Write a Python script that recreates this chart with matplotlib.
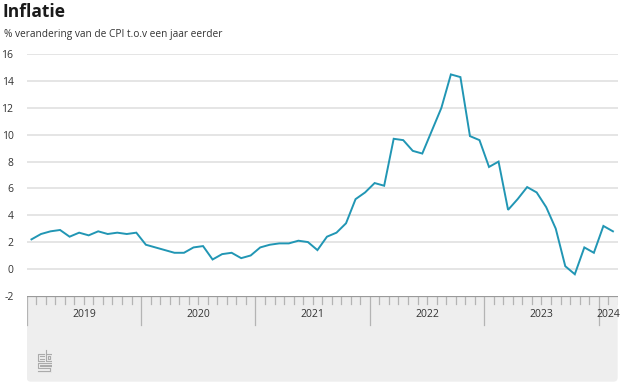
import matplotlib; matplotlib.use("Agg")
import matplotlib.pyplot as plt
from matplotlib.patches import FancyBboxPatch
import numpy as np

# monthly CPI change vs. a year earlier, Jan 2019 - Feb 2024
infl_2019 = [2.2, 2.6, 2.8, 2.9, 2.4, 2.7, 2.5, 2.8, 2.6, 2.7, 2.6, 2.7]
infl_2020 = [1.8, 1.6, 1.4, 1.2, 1.2, 1.6, 1.7, 0.7, 1.1, 1.2, 0.8, 1.0]
infl_2021 = [1.6, 1.8, 1.9, 1.9, 2.1, 2.0, 1.4, 2.4, 2.7, 3.4, 5.2, 5.7]
infl_2022 = [6.4, 6.2, 9.7, 9.6, 8.8, 8.6, 10.3, 12.0, 14.5, 14.3, 9.9, 9.6]
infl_2023 = [7.6, 8.0, 4.4, 5.2, 6.1, 5.7, 4.6, 3.0, 0.2, -0.4, 1.6, 1.2]
infl_2024 = [3.2, 2.8]
years = ["2019", "2020", "2021", "2022", "2023", "2024"]
yticks = [-2, 0, 2, 4, 6, 8, 10, 12, 14, 16]

values = infl_2019 + infl_2020 + infl_2021 + infl_2022 + infl_2023 + infl_2024
n = len(values)
x = np.arange(n) + 0.5  # month centres

LINE = "#2196b4"; GRID = "#dedede"; TXT = "#333333"; BAND = "#eeeeee"; TICK = "#b4b4b4"
plt.rcParams.update({"font.family": ["Open Sans", "DejaVu Sans"], "font.size": 7.5})

W, H = 626, 391
fig = plt.figure(figsize=(W / 100, H / 100), dpi=100)
L, R, T, B = 26.7, 617.7, 54.3, 295.7
ax = fig.add_axes([L / W, 1 - B / H, (R - L) / W, (B - T) / H])
ax.set_xlim(0, n); ax.set_ylim(-2, 16)
for s in ax.spines.values(): s.set_visible(False)
for v in yticks[1:]:
    ax.axhline(v, color=GRID, lw=1.1, zorder=1)
ax.plot(x, values, color=LINE, lw=1.4, zorder=3, solid_joinstyle="miter")
ax.set_yticks(yticks)
ax.set_yticklabels([str(v) for v in yticks], color=TXT, fontsize=7.5)
ax.tick_params(axis="y", length=0, pad=9.5)
ax.set_xticks([])

# band with year axis
bb = 381.7
bx = fig.add_axes([L / W, 1 - bb / H, (R - L) / W, (bb - B) / H])
bx.set_xlim(0, n); bx.set_ylim(bb - B, 0); bx.axis("off")
asp = ((R - L) / n)
bx.add_patch(FancyBboxPatch((0, -20), n, bb - B + 20, boxstyle="round,pad=0,rounding_size=0.45",
                            mutation_aspect=asp, fc=BAND, ec="none", clip_on=True, zorder=0))
bx.axhline(0, color="#9a9a9a", lw=1.6, zorder=3)
for m in range(0, n + 1):
    if m % 12 == 0:
        bx.plot([m, m], [0, 29.5], color=TICK, lw=0.9, zorder=2)
    else:
        bx.plot([m, m], [0, 8], color=TICK, lw=0.9, zorder=2)
for i, yr in enumerate(years):
    c = min(i * 12 + 6, (i * 12 + n) / 2)
    bx.text(c, 18.5, yr, ha="center", va="center", color=TXT, fontsize=7.5)

# cbs mark
lg = fig.add_axes([37 / W, 1 - 373 / H, 15 / W, 24 / H])
lg.set_xlim(-0.5, 14.5); lg.set_ylim(-0.5, 23.5); lg.axis("off")
LC = "#ababab"; lw = 0.8
for seg in [[(6, 19), (0, 19), (0, 12), (6, 12)], [(2, 17), (6, 17)], [(2, 14), (6, 14)],
            [(8, 23), (8, 12), (14, 12), (14, 19), (8, 19)], [(10, 14), (12, 14), (12, 17), (10, 17), (10, 14)],
            [(14, 10), (0, 10), (0, 5), (12, 5), (12, 2), (0, 2)], [(14, 8), (2, 8), (2, 7), (14, 7), (14, 0), (0, 0)]]:
    xs, ys = zip(*seg)
    lg.plot(xs, ys, color=LC, lw=lw)

fig.text(3 / W, 1 - 17 / H, "Inflatie", fontsize=12.5, fontweight="bold", color="#1a1a1a", ha="left", va="baseline")
fig.text(4 / W, 1 - 37.5 / H, "% verandering van de CPI t.o.v een jaar eerder", fontsize=7.3, color=TXT,
         ha="left", va="baseline")
fig.savefig("out.png", dpi=100)
